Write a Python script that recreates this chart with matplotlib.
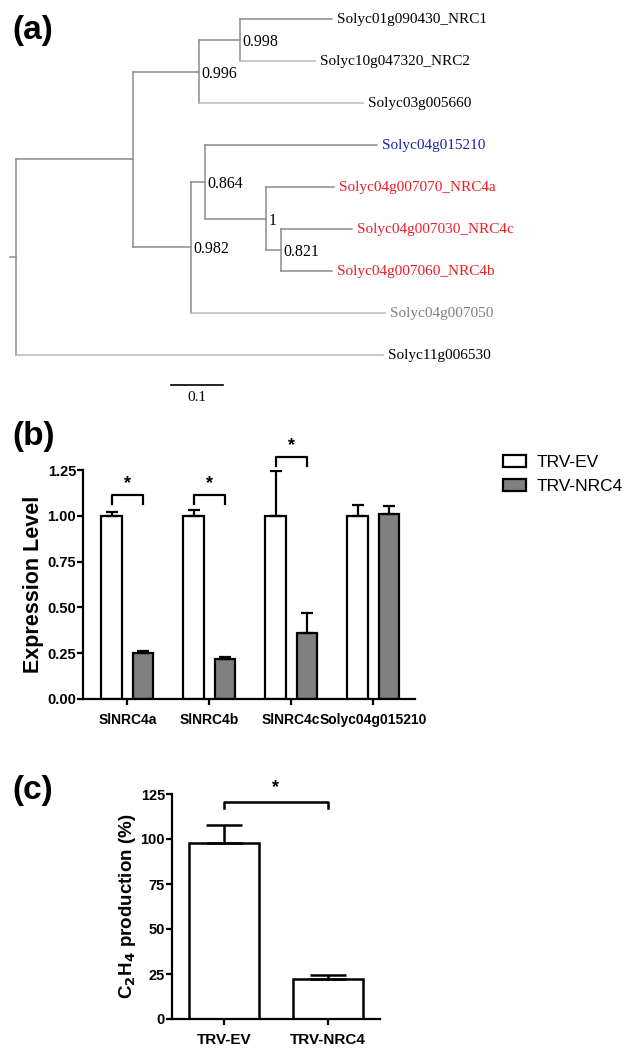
import matplotlib
matplotlib.use('Agg')
import matplotlib.pyplot as plt
import numpy as np

# ---- (a) tree: leaves top to bottom, branch lengths ----
leaves = ['Solyc01g090430_NRC1', 'Solyc10g047320_NRC2', 'Solyc03g005660',
          'Solyc04g015210', 'Solyc04g007070_NRC4a', 'Solyc04g007030_NRC4c',
          'Solyc04g007060_NRC4b', 'Solyc04g007050', 'Solyc11g006530']
leaf_colors = ['black', 'black', 'black', '#1c22a8', '#ee1c25', '#ee1c25',
               '#ee1c25', '#808080', 'black']
# node: (parent, branch length, support label)
nodes = {
    'A': ('root', 0.225, ''),
    'B': ('A', 0.127, '0.996'),
    'C': ('B', 0.079, '0.998'),
    'Solyc01g090430_NRC1': ('C', 0.177, ''),
    'Solyc10g047320_NRC2': ('C', 0.144, ''),
    'Solyc03g005660': ('B', 0.315, ''),
    'D': ('A', 0.112, '0.982'),
    'E': ('D', 0.027, '0.864'),
    'Solyc04g015210': ('E', 0.331, ''),
    'F': ('E', 0.117, '1'),
    'Solyc04g007070_NRC4a': ('F', 0.131, ''),
    'G': ('F', 0.029, '0.821'),
    'Solyc04g007030_NRC4c': ('G', 0.137, ''),
    'Solyc04g007060_NRC4b': ('G', 0.098, ''),
    'Solyc04g007050': ('D', 0.373, ''),
    'Solyc11g006530': ('root', 0.706, ''),
}
light_branches = ['Solyc10g047320_NRC2', 'Solyc03g005660', 'Solyc11g006530',
                  'Solyc04g007050']
scale_len = 0.1

# ---- (b) expression ----
genes = ['SlNRC4a', 'SlNRC4b', 'SlNRC4c', 'Solyc04g015210']
ev_mean = [1.00, 1.00, 1.00, 1.00]
ev_err = [0.02, 0.03, 0.245, 0.06]
nrc_mean = [0.25, 0.22, 0.36, 1.01]
nrc_err = [0.01, 0.01, 0.11, 0.045]
sig_b = [0, 1, 2]
sig_b_y = [1.115, 1.115, 1.32]

# ---- (c) ethylene ----
groups_c = ['TRV-EV', 'TRV-NRC4']
c2h4_mean = [98, 22]
c2h4_err = [10, 2.5]

W, H = 643, 1050
fig = plt.figure(figsize=(W / 100, H / 100), dpi=100)
plt.rcParams['font.family'] = ['Liberation Sans', 'DejaVu Sans']
SERIF = 'Liberation Serif'


def fr(x0, y0, x1, y1):
    return [x0 / W, 1 - y1 / H, (x1 - x0) / W, (y1 - y0) / H]


# ---------- tree ----------
ax = fig.add_axes(fr(0, 0, W, 420))
px = 0.1 / 52
ax.set_xlim(-16 * px, (W - 16) * px)
ax.set_ylim((420 - 19) / 42, -19 / 42)
ax.axis('off')

xpos = {'root': 0.0}
ypos = {}
for i, lf in enumerate(leaves):
    ypos[lf] = i
for name, (par, bl, _) in nodes.items():
    xpos[name] = xpos[par] + bl
children = {}
for name, (par, _, _) in nodes.items():
    children.setdefault(par, []).append(name)


def set_y(n):
    if n in ypos:
        return ypos[n]
    ys = [set_y(c) for c in children[n]]
    ypos[n] = (min(ys) + max(ys)) / 2
    return ypos[n]


set_y('root')
lc = '#8c8c8c'
for n, ch in children.items():
    ys = [ypos[c] for c in ch]
    ax.plot([xpos[n], xpos[n]], [min(ys), max(ys)], color=lc, lw=1.1)
for name, (par, bl, sup) in nodes.items():
    col = '#b8b8b8' if name in light_branches else lc
    ax.plot([xpos[par], xpos[name]], [ypos[name], ypos[name]], color=col, lw=1.1)
    if sup:
        ax.text(xpos[name] + 0.004, ypos[name] + 0.05, sup, family=SERIF,
                fontsize=11.5, va='center', ha='left')
ax.plot([-0.012, 0], [ypos['root'], ypos['root']], color=lc, lw=1.1)
for lf, c in zip(leaves, leaf_colors):
    ax.text(xpos[lf] + 0.009, ypos[lf], lf, color=c, family=SERIF,
            fontsize=11, va='center', ha='left')
sb_y = (385 - 19) / 42
sb_x = (171 - 16) * px
ax.plot([sb_x, sb_x + scale_len], [sb_y, sb_y], color='black', lw=1.2)
ax.text(sb_x + scale_len / 2, sb_y + 0.3, '0.1', family=SERIF,
        fontsize=11, ha='center', va='center')
fig.text(12 / W, 1 - 30 / H, '(a)', fontsize=24, fontweight='bold', va='center')

# ---------- (b) ----------
bx = fig.add_axes(fr(83, 470, 415, 699))
x = np.arange(len(genes))
bw, off = 0.25, 0.19
bx.bar(x - off, ev_mean, bw, color='white', edgecolor='black', lw=1.6,
       yerr=[np.zeros(4), ev_err], capsize=4.5,
       error_kw=dict(elinewidth=1.6, capthick=1.6), label='TRV-EV', zorder=2)
bx.bar(x + off, nrc_mean, bw, color='#808080', edgecolor='black', lw=1.6,
       yerr=[np.zeros(4), nrc_err], capsize=4.5,
       error_kw=dict(elinewidth=1.6, capthick=1.6), label='TRV-NRC4', zorder=2)
bx.set_xlim(-0.54, 3.51)
bx.set_ylim(0, 1.25)
bx.set_yticks([0, 0.25, 0.5, 0.75, 1.0, 1.25])
bx.set_yticklabels(['0.00', '0.25', '0.50', '0.75', '1.00', '1.25'])
bx.set_xticks(x)
bx.set_xticklabels(genes)
for s in ['top', 'right']:
    bx.spines[s].set_visible(False)
for s in ['left', 'bottom']:
    bx.spines[s].set_linewidth(1.6)
bx.tick_params(width=1.6, length=4)
bx.tick_params(axis='y', labelsize=10.5, pad=1)
bx.tick_params(axis='x', labelsize=10, pad=6)
for t in bx.get_xticklabels() + bx.get_yticklabels():
    t.set_fontweight('bold')
bx.set_ylabel('Expression Level', fontsize=15.5, fontweight='bold', labelpad=2)
for g, yb in zip(sig_b, sig_b_y):
    bx.plot([g - off, g - off, g + off, g + off], [yb - 0.05, yb, yb, yb - 0.05],
            color='black', lw=1.6, clip_on=False)
    bx.text(g, yb + 0.015, '*', ha='center', va='bottom', fontsize=13, fontweight='bold')
bx.legend(loc='upper left', bbox_to_anchor=(1.265, 1.065), frameon=False, fontsize=12.5,
          borderaxespad=0, borderpad=0,
          handlelength=1.35, handleheight=0.7, handletextpad=0.6, labelspacing=0.5)
fig.text(12 / W, 1 - 437 / H, '(b)', fontsize=24, fontweight='bold', va='center')

# ---------- (c) ----------
cx = fig.add_axes(fr(172, 794, 380, 1019))
xc = np.arange(len(groups_c))
cx.bar(xc, c2h4_mean, 0.67, color='white', edgecolor='black', lw=1.8,
       yerr=[np.zeros(2), c2h4_err], capsize=13,
       error_kw=dict(elinewidth=1.8, capthick=1.8), zorder=2)
cx.set_xlim(-0.5, 1.5)
cx.set_ylim(0, 125)
cx.set_yticks([0, 25, 50, 75, 100, 125])
cx.set_xticks(xc)
cx.set_xticklabels(groups_c)
for s in ['top', 'right']:
    cx.spines[s].set_visible(False)
for s in ['left', 'bottom']:
    cx.spines[s].set_linewidth(1.6)
cx.tick_params(width=1.6, length=4)
cx.tick_params(axis='y', labelsize=10.5, pad=1)
cx.tick_params(axis='x', labelsize=11, pad=6)
for t in cx.get_xticklabels() + cx.get_yticklabels():
    t.set_fontweight('bold')
cx.set_ylabel('C$_\\mathbf{2}$H$_\\mathbf{4}$ production (%)', fontsize=13.5,
              fontweight='bold', labelpad=2)
cx.plot([0, 0, 1, 1], [117, 120.5, 120.5, 117], color='black', lw=1.8, clip_on=False)
cx.text(0.5, 124, '*', ha='center', va='bottom', fontsize=13, fontweight='bold')
fig.text(12 / W, 1 - 790 / H, '(c)', fontsize=24, fontweight='bold', va='center')

fig.savefig('out.png', dpi=100)
